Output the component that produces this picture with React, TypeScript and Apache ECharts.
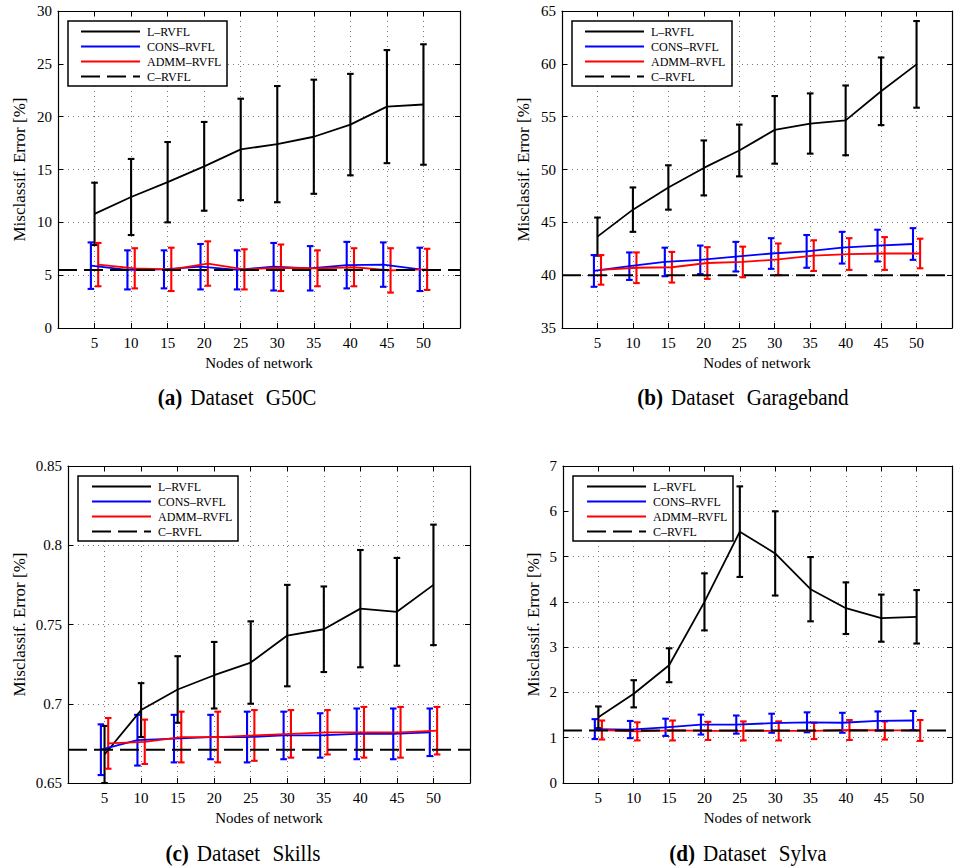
import React, { useEffect, useRef } from "react";
import * as echarts from "echarts";

// ---------- data ----------
const NODES = [5, 10, 15, 20, 25, 30, 35, 40, 45, 50];
const SERIES_NAMES = ["L–RVFL", "CONS–RVFL", "ADMM–RVFL", "C–RVFL"];

// (a) G50C
const aL = [10.8, 12.4, 13.8, 15.3, 16.9, 17.4, 18.1, 19.25, 20.95, 21.15];
const aLe = [2.95, 3.6, 3.8, 4.2, 4.8, 5.5, 5.4, 4.8, 5.35, 5.7];
const aC = [5.9, 5.5, 5.55, 5.8, 5.5, 5.8, 5.65, 5.95, 6.0, 5.55];
const aCe = [2.2, 1.85, 1.8, 2.15, 1.85, 2.25, 2.1, 2.2, 2.1, 2.05];
const aA = [6.0, 5.65, 5.55, 6.1, 5.55, 5.7, 5.65, 5.75, 5.45, 5.55];
const aAe = [2.05, 1.9, 2.05, 2.1, 1.9, 2.2, 1.7, 1.8, 2.1, 1.95];
const aRef = 5.5;

// (b) Garageband
const bL = [43.65, 46.2, 48.3, 50.15, 51.8, 53.75, 54.35, 54.65, 57.4, 59.95];
const bLe = [1.8, 2.1, 2.1, 2.6, 2.45, 3.2, 2.85, 3.3, 3.2, 4.1];
const bC = [40.4, 40.85, 41.25, 41.45, 41.75, 42.05, 42.25, 42.6, 42.8, 42.95];
const bCe = [1.5, 1.3, 1.35, 1.35, 1.4, 1.45, 1.55, 1.5, 1.5, 1.5];
const bA = [40.5, 40.7, 40.75, 41.15, 41.25, 41.5, 41.85, 42.0, 42.05, 42.05];
const bAe = [1.4, 1.45, 1.45, 1.5, 1.45, 1.5, 1.45, 1.5, 1.55, 1.4];
const bRef = 40;

// (c) Skills
const cL = [0.668, 0.696, 0.709, 0.718, 0.726, 0.743, 0.747, 0.76, 0.758, 0.775];
const cLe = [0.018, 0.017, 0.021, 0.021, 0.026, 0.032, 0.027, 0.037, 0.034, 0.038];
const cC = [0.671, 0.677, 0.678, 0.679, 0.679, 0.68, 0.68, 0.681, 0.681, 0.682];
const cCe = [0.016, 0.016, 0.015, 0.014, 0.016, 0.015, 0.014, 0.016, 0.016, 0.015];
const cA = [0.675, 0.676, 0.679, 0.679, 0.68, 0.681, 0.682, 0.682, 0.682, 0.683];
const cAe = [0.016, 0.014, 0.016, 0.016, 0.016, 0.015, 0.014, 0.016, 0.016, 0.015];
const cRef = 0.671;

// (d) Sylva
const dL = [1.45, 1.97, 2.6, 4.0, 5.55, 5.07, 4.28, 3.86, 3.64, 3.67];
const dLe = [0.24, 0.3, 0.375, 0.63, 1.0, 0.93, 0.71, 0.57, 0.52, 0.59];
const dC = [1.19, 1.18, 1.23, 1.29, 1.29, 1.32, 1.34, 1.33, 1.37, 1.38];
const dCe = [0.22, 0.19, 0.19, 0.22, 0.2, 0.21, 0.22, 0.22, 0.21, 0.21];
const dA = [1.17, 1.14, 1.16, 1.15, 1.15, 1.15, 1.15, 1.17, 1.16, 1.16];
const dAe = [0.21, 0.2, 0.22, 0.2, 0.21, 0.21, 0.18, 0.22, 0.2, 0.23];
const dRef = 1.16;

// ---------- layout ----------
const FONT = "'Liberation Serif', 'Times New Roman', serif";
const X_MIN = 0;
const X_MAX = 55;

const PANELS = [
  {
    L: aL, Le: aLe, C: aC, Ce: aCe, A: aA, Ae: aAe, ref: aRef,
    yMin: 0, yMax: 30, yInt: 5,
    grid: { left: 58, top: 11, width: 402, height: 317 },
    box: { x: 68, y: 21, w: 159, h: 65 }, legendLeft: 80,
    nameGap: 31,
    tag: "(a)", word: "Dataset", set: "G50C", cx: 237, cy: 397,
  },
  {
    L: bL, Le: bLe, C: bC, Ce: bCe, A: bA, Ae: bAe, ref: bRef,
    yMin: 35, yMax: 65, yInt: 5,
    grid: { left: 562, top: 11, width: 402, height: 317 },
    box: { x: 572, y: 21, w: 160, h: 65 }, legendLeft: 584,
    nameGap: 31,
    tag: "(b)", word: "Dataset", set: "Garageband", cx: 743, cy: 397,
  },
  {
    L: cL, Le: cLe, C: cC, Ce: cCe, A: cA, Ae: cAe, ref: cRef,
    yMin: 0.65, yMax: 0.85, yInt: 0.05,
    grid: { left: 68, top: 466, width: 402, height: 317 },
    box: { x: 78, y: 476, w: 160, h: 65 }, legendLeft: 91,
    nameGap: 41,
    tag: "(c)", word: "Dataset", set: "Skills", cx: 243, cy: 853,
  },
  {
    L: dL, Le: dLe, C: dC, Ce: dCe, A: dA, Ae: dAe, ref: dRef,
    yMin: 0, yMax: 7, yInt: 1,
    grid: { left: 563, top: 466, width: 402, height: 317 },
    box: { x: 573, y: 476, w: 160, h: 65 }, legendLeft: 586,
    nameGap: 22,
    tag: "(d)", word: "Dataset", set: "Sylva", cx: 748, cy: 853,
  },
];

const BLACK = "#000000";
const BLUE = "#0000ff";
const RED = "#ff0000";
const DASH = [19, 7];

function errSeries(name: string, idx: number, color: string, mean: number[], err: number[], off: number) {
  return {
    name,
    type: "custom",
    xAxisIndex: idx,
    yAxisIndex: idx,
    z: 2,
    data: NODES.map((n, i) => [n + off, mean[i] - err[i], mean[i] + err[i]]),
    encode: { x: 0, y: [1, 2] },
    renderItem: (_p: any, api: any) => {
      const x = api.value(0);
      const lo = api.value(1);
      const hi = api.value(2);
      const t = api.coord([x, hi]);
      const b = api.coord([x, lo]);
      const w = 3.3;
      const style = { stroke: color, lineWidth: 2.1, fill: null };
      return {
        type: "group",
        children: [
          { type: "line", shape: { x1: t[0], y1: t[1], x2: b[0], y2: b[1] }, style },
          { type: "line", shape: { x1: t[0] - w, y1: t[1], x2: t[0] + w, y2: t[1] }, style },
          { type: "line", shape: { x1: b[0] - w, y1: b[1], x2: b[0] + w, y2: b[1] }, style },
        ],
      };
    },
  };
}

function lineSeries(name: string, idx: number, color: string, mean: number[], off: number) {
  return {
    name,
    type: "line",
    xAxisIndex: idx,
    yAxisIndex: idx,
    symbol: "none",
    z: 3,
    lineStyle: { color, width: 1.8 },
    itemStyle: { color },
    data: NODES.map((n, i) => [n + off, mean[i]]),
  };
}

function buildOption() {
  const grid: any[] = [];
  const xAxis: any[] = [];
  const yAxis: any[] = [];
  const series: any[] = [];
  const legend: any[] = [];
  const graphic: any[] = [];

  const tickStyle = { lineStyle: { color: BLACK, width: 1 } };
  const axisLine = { show: true, onZero: false, lineStyle: { color: BLACK, width: 1.2 } };
  const splitLine = { show: true, lineStyle: { color: "#777", width: 1, type: [1, 4] } };

  PANELS.forEach((p, i) => {
    grid.push({ ...p.grid });
    xAxis.push({
      type: "value", gridIndex: i, min: X_MIN, max: X_MAX, interval: 5, position: "bottom",
      axisLine, axisTick: { inside: true, length: 5, ...tickStyle }, splitLine,
      axisLabel: {
        margin: 7, color: BLACK, fontFamily: FONT, fontSize: 15,
        formatter: (v: number) => (v === X_MIN || v === X_MAX ? "" : String(v)),
      },
      name: "Nodes of network", nameLocation: "middle", nameGap: 27,
      nameTextStyle: { color: BLACK, fontFamily: FONT, fontSize: 15 },
    });
    yAxis.push({
      type: "value", gridIndex: i, min: p.yMin, max: p.yMax, interval: p.yInt, position: "left",
      axisLine, axisTick: { inside: true, length: 5, ...tickStyle }, splitLine,
      axisLabel: {
        margin: 6, color: BLACK, fontFamily: FONT, fontSize: 15,
        formatter: (v: number) => String(Math.round(v * 100) / 100),
      },
      name: "Misclassif. Error [%]", nameLocation: "middle", nameGap: p.nameGap - 1, nameRotate: 90,
      nameTextStyle: { color: BLACK, fontFamily: FONT, fontSize: 17 },
    });
  });
  // box axes (top / right)
  PANELS.forEach((p, i) => {
    xAxis.push({
      type: "value", gridIndex: i, min: X_MIN, max: X_MAX, interval: 5, position: "top",
      axisLine, axisTick: { inside: true, length: 5, ...tickStyle },
      splitLine: { show: false }, axisLabel: { show: false },
    });
    yAxis.push({
      type: "value", gridIndex: i, min: p.yMin, max: p.yMax, interval: p.yInt, position: "right",
      axisLine, axisTick: { inside: true, length: 5, ...tickStyle },
      splitLine: { show: false }, axisLabel: { show: false },
    });
  });

  PANELS.forEach((p, i) => {
    series.push(errSeries("errL" + i, i, BLACK, p.L, p.Le, 0));
    series.push(lineSeries(SERIES_NAMES[0], i, BLACK, p.L, 0));
    series.push(errSeries("errC" + i, i, BLUE, p.C, p.Ce, -0.5));
    series.push(lineSeries(SERIES_NAMES[1], i, BLUE, p.C, -0.5));
    series.push(errSeries("errA" + i, i, RED, p.A, p.Ae, 0.5));
    series.push(lineSeries(SERIES_NAMES[2], i, RED, p.A, 0.5));
    series.push({
      name: SERIES_NAMES[3],
      type: "line",
      xAxisIndex: i,
      yAxisIndex: i,
      symbol: "none",
      z: 4,
      lineStyle: { color: BLACK, width: 2, type: DASH },
      itemStyle: { color: BLACK },
      data: [[X_MIN, p.ref], [X_MAX, p.ref]],
    });

    legend.push({
      left: p.legendLeft,
      top: p.box.y + 3,
      orient: "vertical",
      padding: 0,
      itemWidth: 59,
      itemHeight: 15,
      itemGap: 0,
      selectedMode: false,
      z: 10,
      itemStyle: { opacity: 0, borderWidth: 0 },
      data: SERIES_NAMES,
      textStyle: { color: BLACK, fontFamily: FONT, fontSize: 12, lineHeight: 15, padding: [0, 0, 0, 2] },
    });

    graphic.push({
      type: "rect",
      z: 8,
      shape: { x: p.box.x, y: p.box.y, width: p.box.w, height: p.box.h },
      style: { fill: "#ffffff", stroke: BLACK, lineWidth: 1.5 },
    });
    graphic.push({
      type: "text",
      z: 10,
      x: p.cx,
      y: p.cy,
      scaleX: 0.88,
      style: {
        text: "{b|" + p.tag + "}{s1| }{t|" + p.word + "}{s2| }{t|" + p.set + "}",
        fontFamily: FONT,
        fontSize: 24,
        fill: BLACK,
        align: "center",
        verticalAlign: "middle",
        rich: {
          b: { fontFamily: FONT, fontSize: 24, fontWeight: "bold", fill: BLACK, lineHeight: 28 },
          t: { fontFamily: FONT, fontSize: 24, fill: BLACK, lineHeight: 28 },
          s1: { fontFamily: FONT, fontSize: 24, width: 9, lineHeight: 28 },
          s2: { fontFamily: FONT, fontSize: 24, width: 14, lineHeight: 28 },
        },
      },
    });
  });

  return {
    animation: false,
    backgroundColor: "#ffffff",
    grid,
    xAxis,
    yAxis,
    legend,
    graphic,
    series,
  };
}

export default function App() {
  const ref = useRef<HTMLDivElement>(null);
  useEffect(() => {
    if (!ref.current) return;
    const chart = echarts.init(ref.current, undefined, { renderer: "svg" });
    chart.setOption(buildOption() as any);
    return () => chart.dispose();
  }, []);
  return (
    <div
      ref={ref}
      style={{ position: "absolute", left: 0, top: 0, width: 955, height: 868, background: "#fff" }}
    />
  );
}
